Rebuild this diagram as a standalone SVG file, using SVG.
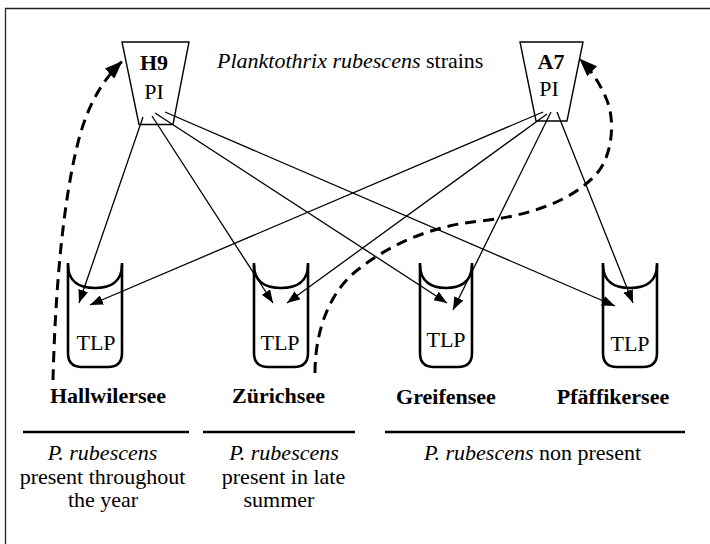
<svg xmlns="http://www.w3.org/2000/svg" width="710" height="544" viewBox="0 0 710 544">
<defs>
<style>
text{font-family:"Liberation Serif","Times New Roman",serif;font-size:22px;fill:#000}
.b{font-weight:bold}
.i{font-style:italic}
.m{text-anchor:middle}
.trap{fill:#fff;stroke:#000;stroke-width:1.4}
.cyl{fill:none;stroke:#000;stroke-width:2.6;stroke-linejoin:round}
.ln{fill:none;stroke:#000;stroke-width:1.3}
.dash{fill:none;stroke:#000;stroke-width:3;stroke-dasharray:11 7}
.rule{stroke:#000;stroke-width:2.6}
</style>
<marker id="ah" markerUnits="userSpaceOnUse" markerWidth="13" markerHeight="10" refX="13" refY="5" orient="auto">
<path d="M0,0 L13,5 L0,10 z" fill="#000"/>
</marker>
<marker id="ahd" markerUnits="userSpaceOnUse" markerWidth="18" markerHeight="14" refX="17" refY="7" orient="auto">
<path d="M0,0 L18,7 L0,14 z" fill="#000"/>
</marker>
</defs>
<rect width="710" height="544" fill="#fff"/>
<path d="M5.5,544 V8.5 H710" fill="none" stroke="#222" stroke-width="1.3"/>

<text x="217" y="68"><tspan class="i">Planktothrix rubescens</tspan> strains</text>

<g id="H9">
<polygon class="trap" points="122,42 189,42 173,124.5 139,124.5"/>
<text class="b m" x="154" y="70">H9</text>
<text class="m" x="154" y="99">PI</text>
</g>
<g id="A7">
<polygon class="trap" points="520,42 583,42 567,121 536,121"/>
<text class="b m" x="551" y="69">A7</text>
<text class="m" x="549" y="96">PI</text>
</g>

<g id="Hallwilersee">
<path class="cyl" d="M68,263 V353 Q68,367 82,367 H108 Q122,367 122,353 V263"/>
<path class="cyl" d="M68,265 C68,282 80,288 95,288 C110,288 122,282 122,265"/>
<text class="m" x="96" y="350">TLP</text>
<text class="b m" x="108" y="403">Hallwilersee</text>
</g>
<g id="Zurichsee">
<path class="cyl" d="M254,263 V353 Q254,367 268,367 H294 Q308,367 308,353 V263"/>
<path class="cyl" d="M254,265 C254,282 266,288 281,288 C296,288 308,282 308,265"/>
<text class="m" x="280" y="350">TLP</text>
<text class="b m" x="278.5" y="403">Zürichsee</text>
</g>
<g id="Greifensee">
<path class="cyl" d="M420,263 V353 Q420,367 434,367 H458 Q472,367 472,353 V263"/>
<path class="cyl" d="M420,265 C420,282 432,288 446,288 C460,288 472,282 472,265"/>
<text class="m" x="446" y="347">TLP</text>
<text class="b m" x="446" y="404">Greifensee</text>
</g>
<g id="Pfaffikersee">
<path class="cyl" d="M603,263 V353 Q603,367 617,367 H643 Q657,367 657,353 V263"/>
<path class="cyl" d="M603,265 C603,282 615,288 630,288 C645,288 657,282 657,265"/>
<text class="m" x="630" y="351">TLP</text>
<text class="b m" x="613" y="404">Pfäffikersee</text>
</g>

<g id="connectors">
<line class="ln" x1="143" y1="117" x2="79" y2="303" marker-end="url(#ah)"/>
<line class="ln" x1="152" y1="116" x2="273" y2="303" marker-end="url(#ah)"/>
<line class="ln" x1="155" y1="113" x2="447" y2="303" marker-end="url(#ah)"/>
<line class="ln" x1="165" y1="112" x2="615" y2="306" marker-end="url(#ah)"/>
<line class="ln" x1="543" y1="112" x2="90" y2="305" marker-end="url(#ah)"/>
<line class="ln" x1="547" y1="114" x2="287" y2="303" marker-end="url(#ah)"/>
<line class="ln" x1="551" y1="112" x2="453" y2="310" marker-end="url(#ah)"/>
<line class="ln" x1="557" y1="112" x2="633" y2="303" marker-end="url(#ah)"/>
<path class="dash" d="M53,380 C55,300 62,200 80,135 C90,100 105,78 121.7,61.7" marker-end="url(#ahd)"/>
<path class="dash" d="M315,373 C315,330 330,290 360,268 C390,245 430,226 480,221 C530,216 575,200 598,172 C612,155 616,120 606,98 C601,86 593,72 580,59.3" marker-end="url(#ahd)"/>
</g>

<g id="legend">
<line class="rule" x1="23" y1="432" x2="189" y2="432"/>
<line class="rule" x1="203" y1="432" x2="355" y2="432"/>
<line class="rule" x1="385" y1="432" x2="685" y2="432"/>
<text class="m i" x="102.5" y="460">P. rubescens</text>
<text class="m" x="102.5" y="483.5">present throughout</text>
<text class="m" x="103" y="507">the year</text>
<text class="m i" x="284" y="460">P. rubescens</text>
<text class="m" x="283.5" y="483.5">present in late</text>
<text class="m" x="279" y="507">summer</text>
<text class="m" x="532.5" y="460"><tspan class="i">P. rubescens</tspan> non present</text>
</g>
</svg>
